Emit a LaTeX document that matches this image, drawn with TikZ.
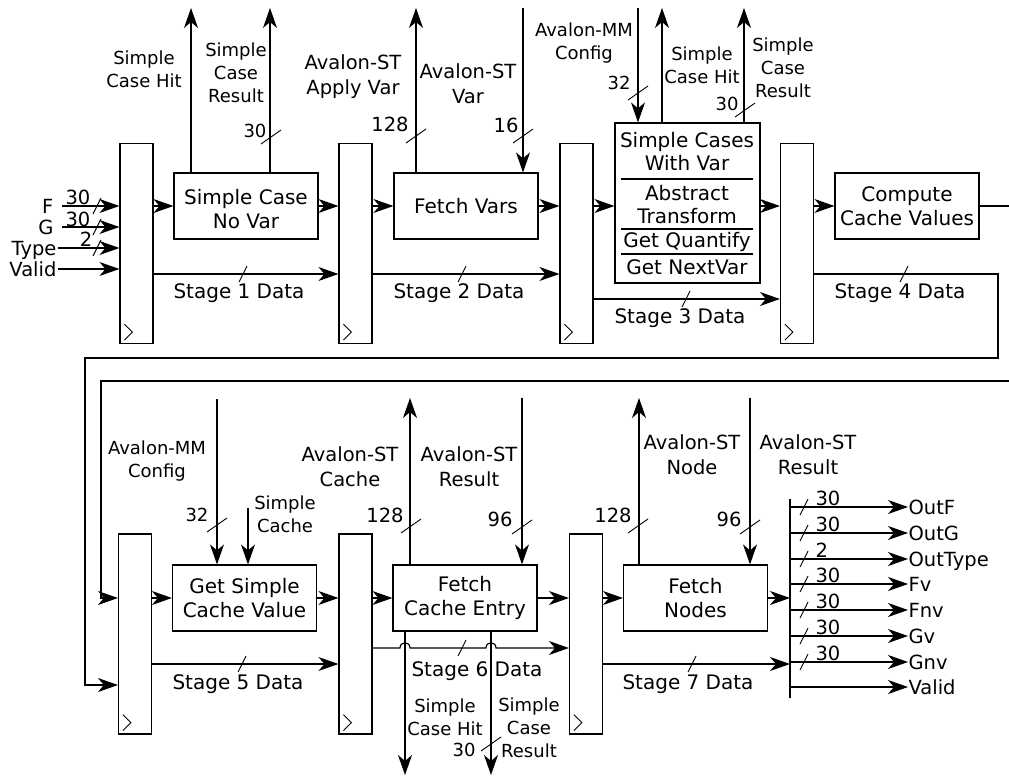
\documentclass[tikz,border=0pt]{standalone}
\usepackage{fontspec}
\setmainfont{DejaVu Sans}
\usetikzlibrary{arrows.meta,calc}
\tikzset{
  hs/.pic={\draw[line width=0.9pt] (-4,8) -- (4,-8);},
  vs/.pic={\draw[line width=0.9pt] (-10,7) -- (10,-7);},
  clk/.pic={\draw[line width=0.9pt] (5,-20) -- (13,-12) -- (5,-4);}
}
\newcommand\toprulex{\rule{0pt}{22pt}}
\begin{document}
\begin{tikzpicture}[x=1pt,y=-1pt,
  line width=1.15pt,
  arr/.style={-{Stealth[length=20pt,width=14pt,inset=6pt]}},
  reg/.style={draw, minimum width=33pt, minimum height=200pt, inner sep=0pt},
  blk/.style={draw, minimum width=144pt, minimum height=66pt, inner sep=0pt, align=center, font=\fontsize{20}{24}\selectfont},
  mtxt/.style={inner sep=0pt, align=center, font=\fontsize{20}{23}\selectfont},
  lab/.style={align=center, inner sep=0pt, font=\fontsize{18}{23}\selectfont},
  labL/.style={align=center, inner sep=0pt, font=\fontsize{19.5}{25}\selectfont},
  num/.style={inner sep=0pt, text height=13pt, text depth=0pt, font=\fontsize{18}{20}\selectfont},
  numL/.style={inner sep=0pt, text height=14pt, text depth=0pt, font=\fontsize{19.5}{21}\selectfont},
  io/.style={inner sep=0pt, text height=14.5pt, text depth=0pt, font=\fontsize{19.5}{22}\selectfont},
  stg/.style={inner sep=0pt, text height=14.5pt, text depth=0pt, font=\fontsize{20}{22}\selectfont},
]
\useasboundingbox (0,0) rectangle (1009,778);

% ---------------- registers ----------------
\node[reg] (r1) at (136.5,243.5) {};
\node[reg] (r2) at (355.5,243.5) {};
\node[reg] (r3) at (576.5,243.5) {};
\node[reg] (r4) at (797,243.5) {};
\node[reg] (r5) at (135,634) {};
\node[reg] (r6) at (355.5,634) {};
\node[reg] (r7) at (586,634) {};
\foreach \r in {r1,r2,r3,r4,r5,r6,r7} {\pic at (\r.south west) {clk};}

% ---------------- top row ----------------
\node[blk] (b1) at (246,206) {\toprulex Simple Case\\No Var};
\node[blk] (b2) at (466,206) {Fetch Vars};
\node[draw, minimum width=145pt, minimum height=160pt, inner sep=0pt] (b3) at (687.5,203) {};
\node[blk] (b4) at (907,206) {Compute\\Cache Values};

\node[mtxt] (t1) at (687,151.5) {Simple Cases\\With Var};
\node[mtxt] (t2) at (687,204.5) {Abstract\\Transform};
\node[mtxt] (t3) at (687,242) {Get Quantify};
\node[mtxt] (t4) at (687,267) {Get NextVar};
\draw (621,179) -- (753,179);
\draw (621,229) -- (753,229);
\draw (621,254) -- (753,254);

% inputs
\node[io,anchor=east] (iF) at (54,206) {F};
\node[io,anchor=east] (iG) at (54,227) {G};
\node[io,anchor=east] (iT) at (57,248) {Type};
\node[io,anchor=east] (iV) at (57,269) {Valid};
\draw[arr] ([xshift=8pt]iF.east) -- (r1.west |- iF.east);
\draw[arr] ([xshift=8pt]iG.east) -- (r1.west |- iG.east);
\draw[arr] ([xshift=1pt]iT.east) -- (r1.west |- iT.east);
\draw[arr] ([xshift=1pt]iV.east) -- (r1.west |- iV.east);
\pic at (97,206) {hs}; \pic at (97,227) {hs}; \pic at (97,248) {hs};
\node[numL] at (78,198) {30};
\node[numL] at (78,219) {30};
\node[numL] at (86,240) {2};

% stage 1
\draw[arr] (r1.east |- b1.west) -- (b1.west);
\draw[arr] (b1.east) -- (b1.east -| r2.west);
\draw[arr] (b1.north -| 191,0) -- (191,8);
\draw[arr] (b1.north -| 270,0) -- (270,8);
\pic at (271,137) {vs};
\node[num] at (255,131) {30};
\node[lab] at (144,69) {Simple\\Case Hit};
\node[lab] at (236,73) {Simple\\Case\\Result};
\draw[arr] (r1.east |- 0,274) -- (r2.west |- 0,274);
\pic at (243,274) {hs};
\node[stg] at (239,291) {Stage 1 Data};

% stage 2
\draw[arr] (r2.east |- b2.west) -- (b2.west);
\draw[arr] (b2.east) -- (b2.east -| r3.west);
\draw[arr] (b2.north -| 416,0) -- (416,8);
\pic at (416,136) {vs};
\node[numL] at (390,125) {128};
\draw[arr] (523,8) -- (b2.north -| 523,0);
\pic at (523,136) {vs};
\node[numL] at (506,126) {16};
\node[labL] at (353,77) {Avalon-ST\\Apply Var};
\node[labL] at (468,84) {Avalon-ST\\Var};
\draw[arr] (r2.east |- 0,274) -- (r3.west |- 0,274);
\pic at (462,274) {hs};
\node[stg] at (459,291) {Stage 2 Data};

% stage 3
\draw[arr] (r3.east |- 0,206) -- (b3.west |- 0,206);
\draw[arr] (b3.east |- 0,206) -- (r4.west |- 0,206);
\draw[arr] (638,8) -- (b3.north -| 638,0);
\pic at (638,93) {vs};
\node[num] at (619,83) {32};
\node[lab] at (584,43) {Avalon-MM\\Config};
\draw[arr] (b3.north -| 662,0) -- (662,8);
\node[lab] at (702,65) {Simple\\Case Hit};
\draw[arr] (b3.north -| 744,0) -- (744,8);
\pic at (745,110) {vs};
\node[num] at (727,104) {30};
\node[lab] at (783,68) {Simple\\Case\\Result};
\draw[arr] (r3.east |- 0,299) -- (r4.west |- 0,299);
\pic at (686,299) {hs};
\node[stg] at (680,316) {Stage 3 Data};

% stage 4
\draw[arr] (r4.east |- b4.west) -- (b4.west);
\coordinate (eR) at (1009,206);
\draw (b4.east) -- (eR);
\coordinate (eR2) at (1009,381);
\draw[arr] (r4.east |- 0,274) -- (998,274) -- (998,358) -- (85,358) -- (85,685) -- (r5.west |- 0,685);
\pic at (904,274) {hs};
\node[stg] at (900,291) {Stage 4 Data};

% ---------------- bottom row ----------------
\draw[arr] (eR2) -- (101,381) -- (101,598) -- (r5.west |- 0,598);

\node[blk] (b5) at (244.5,598) {Get Simple\\Cache Value};
\node[blk] (b6) at (465,598) {Fetch\\Cache Entry};
\node[blk] (b7) at (695.5,598) {Fetch\\Nodes};

% stage 5
\draw[arr] (r5.east |- b5.west) -- (b5.west);
\draw[arr] (b5.east) -- (b5.east -| r6.west);
\draw[arr] (217,399) -- (b5.north -| 217,0);
\pic at (217,525) {vs};
\node[num] at (197,515) {32};
\node[lab] at (157,461) {Avalon-MM\\Config};
\draw[arr] (248,508) -- (b5.north -| 248,0);
\node[lab] at (285,514) {Simple\\Cache};
\draw[arr] (r5.east |- 0,664) -- (r6.west |- 0,664);
\pic at (242,664) {hs};
\node[stg] at (238,682) {Stage 5 Data};

% stage 6
\draw[arr] (r6.east |- b6.west) -- (b6.west);
\draw[arr] (b6.east) -- (b6.east -| r7.west);
\draw[arr] (b6.north -| 410,0) -- (410,398);
\pic at (411,526) {vs};
\node[numL] at (385,515) {128};
\node[labL] at (350,467) {Avalon-ST\\Cache};
\draw[arr] (522,398) -- (b6.north -| 522,0);
\pic at (522,527) {vs};
\node[numL] at (500,519) {96};
\node[labL] at (469,467) {Avalon-ST\\Result};
\draw[arr] (b6.south -| 405,0) -- (405,775);
\draw[arr] (b6.south -| 491,0) -- (491,775);
\pic at (491,744) {vs};
\node[num] at (464,750) {30};
\node[lab] at (445,717) {Simple\\Case Hit};
\node[lab] at (529,728) {Simple\\Case\\Result};
\draw[arr] (r6.east |- 0,648) -- (400,648) .. controls (400,641) and (410,641) .. (410,648)
  -- (486,648) .. controls (486,641) and (496,641) .. (496,648) -- (r7.west |- 0,648);
\pic at (462,648) {hs};
\node[stg] at (477,669) {Stage 6 Data};

% stage 7
\coordinate (busT) at (790,499);
\coordinate (busB) at (790,698);
\draw (busT) -- (busB);
\draw[arr] (r7.east |- b7.west) -- (b7.west);
\draw[arr] (b7.east) -- (b7.east -| busT);
\draw[arr] (b7.north -| 639,0) -- (639,398);
\pic at (638,526) {vs};
\node[numL] at (613,515) {128};
\node[labL] at (692,455) {Avalon-ST\\Node};
\draw[arr] (750,398) -- (b7.north -| 750,0);
\pic at (750,527) {vs};
\node[numL] at (729,519) {96};
\node[labL] at (808,455) {Avalon-ST\\Result};
\draw[arr] (r7.east |- 0,664) -- (busT |- 0,664);
\pic at (692,664) {hs};
\node[stg] at (688,682) {Stage 7 Data};

% outputs
\foreach \y/\n/\w [count=\i] in {507/OutF/30, 533/OutG/30, 559/OutType/2, 584/Fv/30, 610/Fnv/30, 636/Gv/30, 662/Gnv/30} {
  \node[io,anchor=west] (o\i) at (908,\y) {\n};
  \draw[arr] (busT |- o\i.west) -- (o\i.west);
  \pic at (804,\y) {hs};
  \node[numL,anchor=west] at (815,\y-9) {\w};
}
\node[io,anchor=west] (o8) at (908,687) {Valid};
\draw[arr] (busT |- o8.west) -- (o8.west);
\end{tikzpicture}
\end{document}
